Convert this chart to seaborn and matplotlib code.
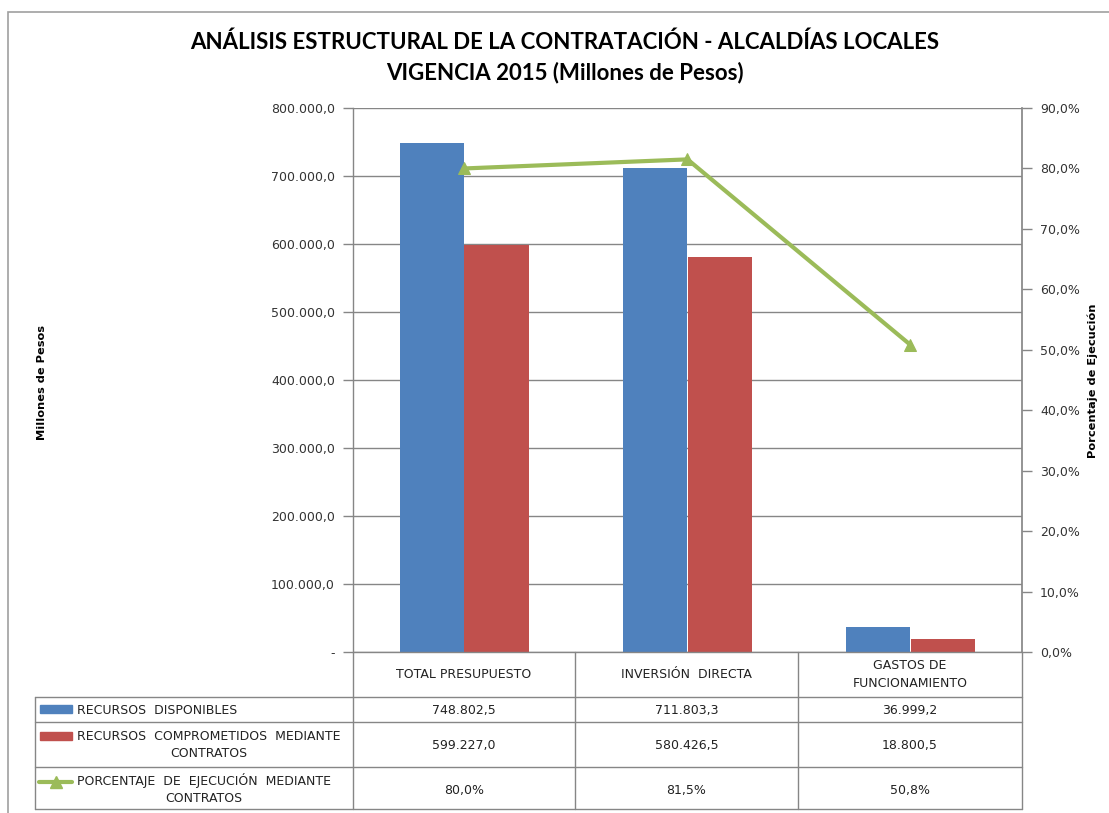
import numpy as np
import pandas as pd
import matplotlib
matplotlib.use("Agg")
import matplotlib.pyplot as plt
from matplotlib.ticker import FuncFormatter, MultipleLocator
from matplotlib.lines import Line2D
from matplotlib.patches import Rectangle
import seaborn as sns

# ---- data ----
categories = ["TOTAL PRESUPUESTO", "INVERSIÓN  DIRECTA", "GASTOS DE\nFUNCIONAMIENTO"]
disponibles = [748802.5, 711803.3, 36999.2]
comprometidos = [599227.0, 580426.5, 18800.5]
porcentaje = [0.800, 0.815, 0.508]
series_names = ["RECURSOS  DISPONIBLES", "RECURSOS  COMPROMETIDOS  MEDIANTE\nCONTRATOS",
                "PORCENTAJE  DE  EJECUCIÓN  MEDIANTE\nCONTRATOS"]
disp_labels = ["748.802,5", "711.803,3", "36.999,2"]
comp_labels = ["599.227,0", "580.426,5", "18.800,5"]
pct_labels = ["80,0%", "81,5%", "50,8%"]

BLUE = "#4F81BD"
RED = "#C0504D"
GREEN = "#9BBB59"
GRID = "#868686"
TXT = "#222222"

sns.set_theme(style="white")
plt.rcParams["font.family"] = ["DejaVu Sans"]

W, H = 1109, 813
fig = plt.figure(figsize=(W / 100, H / 100), dpi=100)

def fx(x):
    return x / W

def fy(y):
    return 1 - y / H

# plot area
x0, x1, y0, y1 = 353, 1022, 108, 652
ax = fig.add_axes([fx(x0), fy(y1), fx(x1) - fx(x0), (y1 - y0) / H])

df = pd.DataFrame({
    "cat": categories * 2,
    "val": disponibles + comprometidos,
    "serie": [series_names[0]] * 3 + [series_names[1]] * 3,
})
sns.barplot(data=df, x="cat", y="val", hue="serie", palette=[BLUE, RED],
            width=0.58, saturation=1, ax=ax, legend=False, zorder=3,
            linewidth=0, edgecolor="none")
ax.set_ylim(0, 800000)
ax.set_xlim(-0.5, 2.5)
ax.yaxis.set_major_locator(MultipleLocator(100000))

def fmt_left(v, pos):
    if abs(v) < 1e-6:
        return "-"
    s = f"{v:,.1f}"
    return s.replace(",", "X").replace(".", ",").replace("X", ".")

ax.yaxis.set_major_formatter(FuncFormatter(fmt_left))
ax.grid(axis="y", color=GRID, linewidth=1, zorder=0)
ax.set_axisbelow(True)
ax.set_xlabel("")
ax.set_ylabel("")
ax.set_xticks([])
for s in ["top", "right", "bottom"]:
    ax.spines[s].set_visible(False)
ax.spines["left"].set_color(GRID)
ax.spines["left"].set_linewidth(1)
ax.tick_params(axis="y", which="major", direction="out", length=7, width=1,
               color=GRID, labelsize=9, labelcolor="#333333", pad=6, left=True)

ax2 = ax.twinx()
sns.lineplot(x=categories, y=porcentaje, ax=ax2, color=GREEN, linewidth=3,
             marker="^", markersize=9, markeredgecolor=GREEN, zorder=5)
ax2.set_ylim(0, 0.9)
ax2.yaxis.set_major_locator(MultipleLocator(0.1))
ax2.yaxis.set_major_formatter(FuncFormatter(lambda v, p: f"{v*100:.1f}%".replace(".", ",")))
ax2.set_ylabel("")
for s in ["top", "left", "bottom"]:
    ax2.spines[s].set_visible(False)
ax2.spines["right"].set_color(GRID)
ax2.tick_params(axis="y", direction="out", length=7, width=1, color=GRID,
                labelsize=9, labelcolor="#333333", pad=6, right=True)
ax2.set_xlim(-0.5, 2.5)

# axis titles
fig.text(fx(42), fy(382), "Millones de Pesos", rotation=90, ha="center", va="center",
         fontsize=8.2, fontweight="bold", color="black")
fig.text(fx(1093), fy(381), "Porcentaje de Ejecución", rotation=90, ha="center", va="center",
         fontsize=8.2, fontweight="bold", color="black")

# title
fig.text(fx(565), fy(42), "ANÁLISIS ESTRUCTURAL DE LA CONTRATACIÓN - ALCALDÍAS LOCALES",
         ha="center", va="center", fontsize=16, fontweight="bold", family="Lato", color="black")
fig.text(fx(565), fy(73), "VIGENCIA 2015 (Millones de Pesos)",
         ha="center", va="center", fontsize=16, fontweight="bold", family="Lato", color="black")

# outer chart border
fig.add_artist(Rectangle((fx(8), fy(830)), fx(1200) - fx(8), fy(12) - fy(830),
                         transform=fig.transFigure, fill=False, edgecolor="#A0A0A0", linewidth=1.2))

# ---- data table ----
def hline(y, xa, xb):
    fig.add_artist(Line2D([fx(xa), fx(xb)], [fy(y), fy(y)], transform=fig.transFigure,
                          color=GRID, linewidth=1))

def vline(x, ya, yb):
    fig.add_artist(Line2D([fx(x), fx(x)], [fy(ya), fy(yb)], transform=fig.transFigure,
                          color=GRID, linewidth=1))

cols = [353, 575, 798, 1022]
rows = [697, 722, 767, 809]
hline(652, 353, 1022)
for y in rows:
    hline(y, 35, 1022)
for x in cols:
    vline(x, 652, 809)
vline(35, 697, 809)

centers = [(cols[i] + cols[i + 1]) / 2 for i in range(3)]
tkw = dict(ha="center", va="center", fontsize=9, color=TXT)
for c, lab in zip(centers, categories):
    fig.text(fx(c), fy(674), lab, linespacing=1.5, **tkw)
for c, lab in zip(centers, disp_labels):
    fig.text(fx(c), fy(710), lab, **tkw)
for c, lab in zip(centers, comp_labels):
    fig.text(fx(c), fy(745), lab, **tkw)
for c, lab in zip(centers, pct_labels):
    fig.text(fx(c), fy(790), lab, **tkw)

# legend keys
fig.add_artist(Rectangle((fx(40), fy(713)), fx(72) - fx(40), fy(705) - fy(713),
                         transform=fig.transFigure, color=BLUE))
fig.add_artist(Rectangle((fx(40), fy(740)), fx(72) - fx(40), fy(732) - fy(740),
                         transform=fig.transFigure, color=RED))
fig.add_artist(Line2D([fx(39), fx(72)], [fy(782), fy(782)], transform=fig.transFigure,
                      color=GREEN, linewidth=3))
fig.add_artist(Line2D([fx(55.5)], [fy(782)], transform=fig.transFigure,
                      color=GREEN, marker="^", markersize=8, linestyle="none"))

lkw = dict(ha="left", va="center", fontsize=9, color=TXT, multialignment="center",
           linespacing=1.45)
fig.text(fx(77), fy(710), series_names[0], **lkw)
fig.text(fx(77), fy(745), series_names[1], **lkw)
fig.text(fx(77), fy(789), series_names[2], **lkw)

fig.savefig("out.png", dpi=100, facecolor="white")
